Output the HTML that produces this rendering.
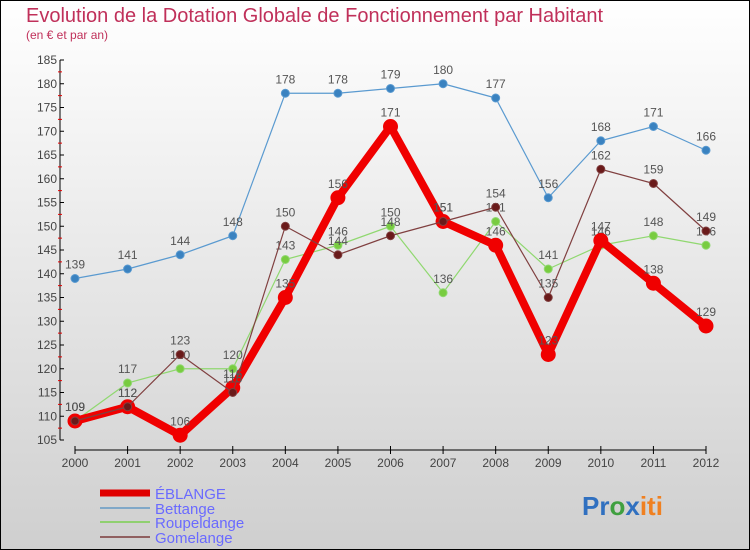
<!DOCTYPE html>
<html><head><meta charset="utf-8"><style>
body{margin:0}
#c{width:750px;height:550px;position:relative;overflow:hidden;font-family:"Liberation Sans",sans-serif}
</style></head><body>
<div id="c">
<svg id="s" width="750" height="550" xmlns="http://www.w3.org/2000/svg">
<defs><linearGradient id="bg" x1="0" y1="0" x2="0" y2="1"><stop offset="0" stop-color="#ffffff"/><stop offset="1" stop-color="#cfcfcf"/></linearGradient></defs>
<rect x="0.5" y="0.5" width="749" height="549" fill="url(#bg)" stroke="#000"/>
<text x="26" y="22" font-size="20" fill="#c0305a">Evolution de la Dotation Globale de Fonctionnement par Habitant</text>
<text x="26" y="39" font-size="12" fill="#c0305a">(en € et par an)</text>
<g id="axes"></g>
<g id="series"></g>
<g>
<line x1="100" y1="493" x2="150" y2="493" stroke="#e00000" stroke-width="7"/>
<text x="155" y="499" font-size="15" fill="#6a6aff">ÉBLANGE</text>
<line x1="100" y1="508" x2="150" y2="508" stroke="#80a8c8" stroke-width="2"/>
<text x="155" y="514" font-size="15" fill="#6a6aff">Bettange</text>
<line x1="100" y1="522" x2="150" y2="522" stroke="#90d070" stroke-width="2"/>
<text x="155" y="528" font-size="15" fill="#6a6aff">Roupeldange</text>
<line x1="100" y1="537" x2="150" y2="537" stroke="#906060" stroke-width="2"/>
<text x="155" y="543" font-size="15" fill="#6a6aff">Gomelange</text>
</g>
<text x="582" y="515" font-size="26" font-weight="bold"><tspan fill="#3070c0">Pr</tspan><tspan fill="#40a040">o</tspan><tspan fill="#3070c0">x</tspan><tspan fill="#f08020">iti</tspan></text>
</svg>
</div>
<script>
const years=[2000,2001,2002,2003,2004,2005,2006,2007,2008,2009,2010,2011,2012];
const eblange=[109,112,106,116,135,156,171,151,146,123,147,138,129];
const bettange=[139,141,144,148,178,178,179,180,177,156,168,171,166];
const roupeldange=[109,117,120,120,143,146,150,136,151,141,146,148,146];
const gomelange=[109,112,123,115,150,144,148,151,154,135,162,159,149];
const yTicks=[105,110,115,120,125,130,135,140,145,150,155,160,165,170,175,180,185];
const NS="http://www.w3.org/2000/svg";
const X=i=>75+i*(706-75)/(years.length-1);
const Y=v=>440-(v-105)*4.75;
function mk(t,a,p){const e=document.createElementNS(NS,t);for(const k in a)e.setAttribute(k,a[k]);p.appendChild(e);return e;}
const ax=document.getElementById('axes');
const yl=mk('line',{x1:60,y1:Y(185),x2:60,y2:Y(105),stroke:'#000'},ax);


yTicks.forEach(v=>{
 mk('line',{x1:60,y1:Y(v),x2:64,y2:Y(v),stroke:'#000'},ax);
 if(v<185)mk('line',{x1:58,y1:Y(v+2.5),x2:62,y2:Y(v+2.5),stroke:'#e00000'},ax);
 const t=mk('text',{x:57,y:Y(v)+4,'font-size':12,fill:'#444','text-anchor':'end'},ax);
 t.textContent=v;
 
 
});
const xl=mk('line',{x1:X(0),y1:450,x2:X(12),y2:450,stroke:'#000'},ax);


years.forEach((y,i)=>{
 mk('line',{x1:X(i),y1:446,x2:X(i),y2:454,stroke:'#000'},ax);
 const t=mk('text',{x:X(i),y:467,'font-size':12,fill:'#444','text-anchor':'middle'},ax);
 t.textContent=y;
 
 
});
const sg=document.getElementById('series');
function series(vals,name,col,w,r,fill){
 const g=mk('g',{},sg);
 
 
 mk('polyline',{points:vals.map((v,i)=>X(i)+','+Y(v)).join(' '),fill:'none',stroke:col,'stroke-width':w,'stroke-linejoin':'round'},g);
 vals.forEach((v,i)=>{
  const c=mk('circle',{cx:X(i),cy:Y(v),r:r,fill:fill,stroke:col,'stroke-width':1},g);
  
  
  const t=mk('text',{x:X(i),y:Y(v)-10,'font-size':12,fill:'#555','text-anchor':'middle'},g);
  t.textContent=v;
  
  
 });
}
series(bettange,'bettange-series','#5a9ad0',1.2,4,'#3a82c0');
series(roupeldange,'roupeldange-series','#90d870',1.2,4,'#78cc40');
series(eblange,'eblange-series','#f00000',8,7,'#f00000');
series(gomelange,'gomelange-series','#804040',1.2,4,'#6a1a1a');
</script>
</body></html>
